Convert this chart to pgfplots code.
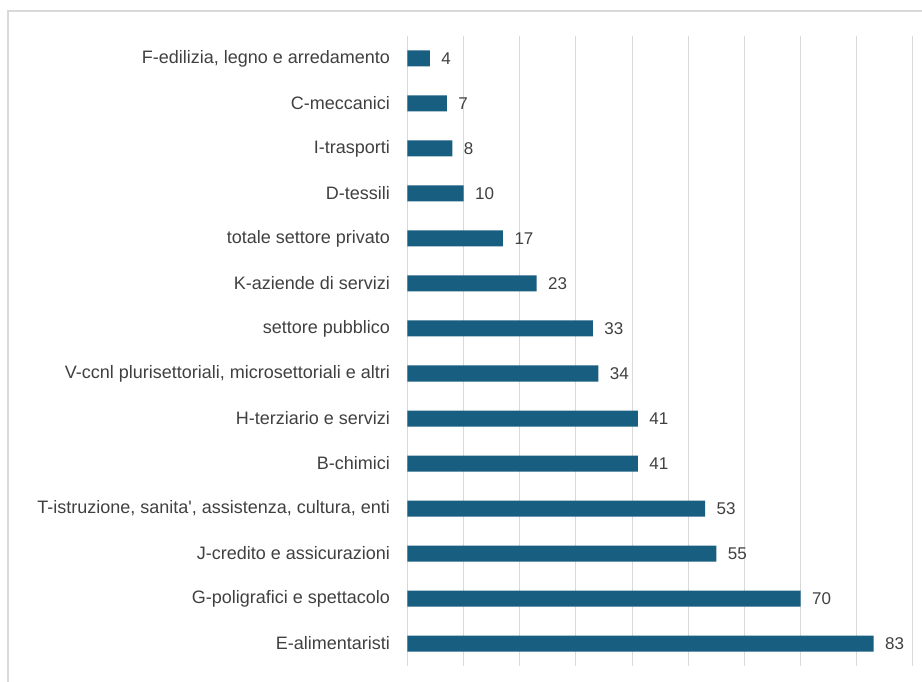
\documentclass[border=0pt]{standalone}
\usepackage{pgfplots}
\pgfplotsset{compat=1.18}
\usepackage{fontspec}
\setmainfont{Liberation Sans}[Ligatures=TeXOff]
\definecolor{barblue}{RGB}{24,94,128}
\definecolor{gridgray}{RGB}{217,217,217}
\definecolor{txtgray}{RGB}{64,64,64}
\begin{document}
\begin{tikzpicture}[x=1pt,y=1pt]
\useasboundingbox (0,0) rectangle (922,682);
\draw[gridgray,line width=1.5pt] (8,0) -- (8,671) -- (922,671);
\begin{axis}[
  at={(407.5pt,16pt)}, anchor=south west,
  scale only axis, width=505.5pt, height=630pt,
  xbar, bar width=16pt,
  xmin=0, xmax=90, ymin=-0.5, ymax=13.5,
  y dir=reverse,
  xtick={0,10,...,90}, xticklabels={},
  xmajorgrids, grid style={gridgray,line width=1pt},
  major tick length=0pt,
  ytick={0,...,13},
  yticklabels={{F-edilizia, legno e arredamento},C-meccanici,I-trasporti,D-tessili,totale settore privato,K-aziende di servizi,settore pubblico,{V-ccnl plurisettoriali, microsettoriali e altri},H-terziario e servizi,B-chimici,{T-istruzione, sanita', assistenza, cultura, enti},J-credito e assicurazioni,G-poligrafici e spettacolo,E-alimentaristi},
  yticklabel style={font=\fontsize{18}{21}\selectfont, text=txtgray, xshift=-14pt},
  axis line style={draw=none},
  /pgf/number format/assume math mode=true,
  nodes near coords,
  nodes near coords style={font=\fontsize{17}{20}\selectfont, text=txtgray, xshift=8pt},
  clip=false,
]
\draw[gridgray,line width=1pt] (axis cs:0,-0.5) -- (axis cs:0,13.5);
\addplot[fill=barblue, draw=none] coordinates {
(4,0) (7,1) (8,2) (10,3) (17,4) (23,5) (33,6) (34,7) (41,8) (41,9) (53,10) (55,11) (70,12) (83,13)
};
\end{axis}
\end{tikzpicture}
\end{document}
